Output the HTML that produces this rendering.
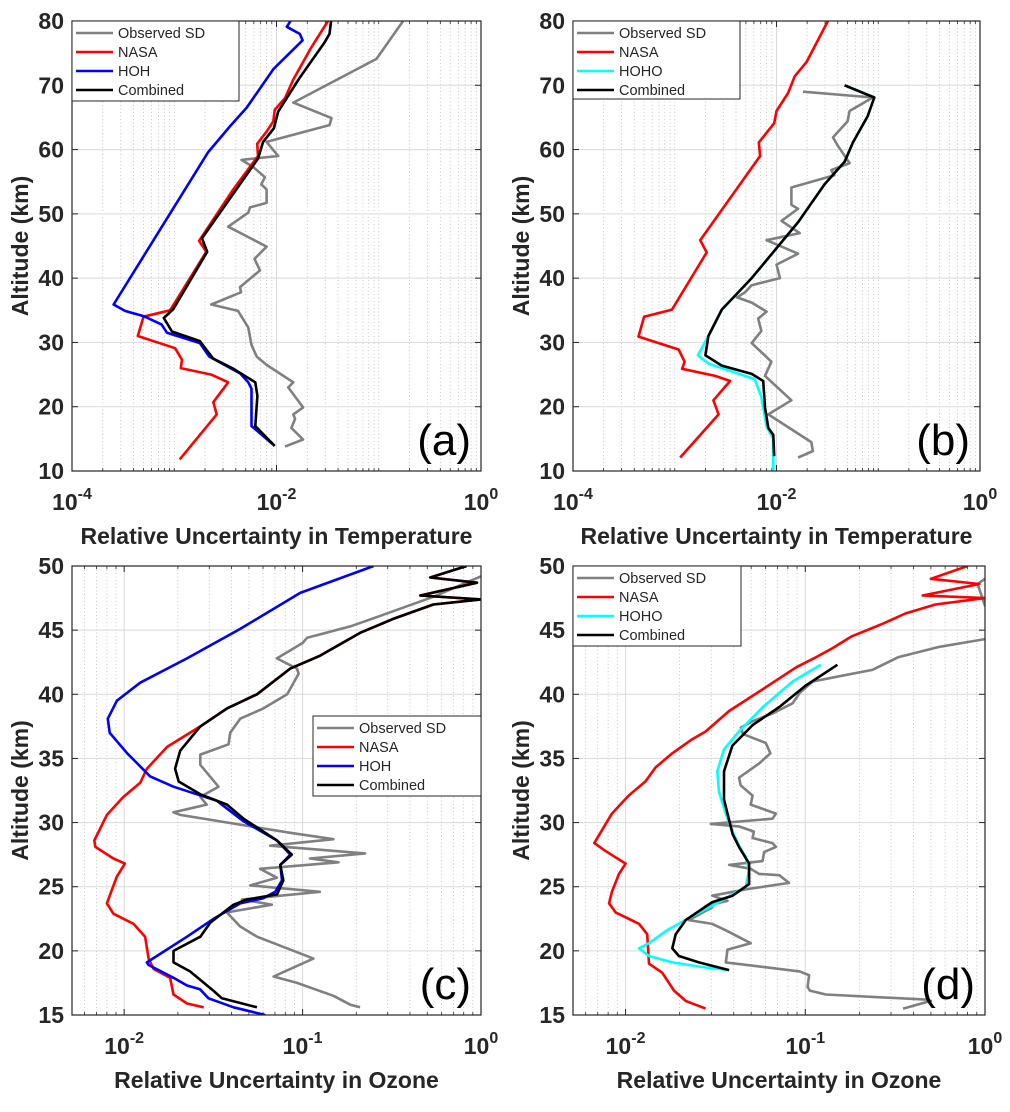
<!DOCTYPE html>
<html><head><meta charset="utf-8">
<style>
html,body{margin:0;padding:0;background:#fff;}
svg{display:block;font-family:"Liberation Sans",Arial,sans-serif;}
</style></head>
<body>
<svg id="fig" width="1010" height="1112" viewBox="0 0 1010 1112" xmlns="http://www.w3.org/2000/svg"></svg>
<script>
// ---------- Panel (a) temperature, HOH ----------
const aObsAlt = [80,74.1,67.3,64.9,63.8,61.2,59.0,58.4,57.3,55.7,54.6,53.8,51.7,51,50.2,48,44.9,43,41.2,38.6,37.8,35.9,34.9,32.3,29.6,27.8,26.5,23.8,23.0,19.9,18.8,18.1,16.7,14.9,13.8];
const aObsVal = [0.173,0.095,0.0146,0.0345,0.033,0.008,0.0104,0.00455,0.0059,0.0077,0.0071,0.008,0.008,0.0055,0.0053,0.00337,0.008,0.0061,0.0069,0.0044,0.0045,0.0023,0.0042,0.0053,0.0057,0.0064,0.008,0.0146,0.013,0.0182,0.0146,0.0152,0.014,0.0182,0.0121];
const aNasaAlt = [80,75.9,70.9,68,66.2,64.4,62.8,60.9,59,53.8,45.8,44.1,35,34,31,29.1,27.3,26,25,23.8,20.7,18.8,11.8];
const aNasaVal = [0.0319,0.0219,0.0146,0.0121,0.00963,0.0093,0.008,0.00647,0.0066,0.00378,0.00175,0.00206,0.00091,0.0005,0.00044,0.00102,0.00119,0.00116,0.0023,0.00337,0.00241,0.0026,0.00113];
const aHohAlt = [80,79.1,78,77,72.5,66.5,63.6,59.6,35.9,34.9,34.1,32.8,31.5,29.9,27.8,25.2,23.8,22.8,17,13.9];
const aHohVal = [0.0137,0.0126,0.0169,0.018,0.0093,0.0051,0.0035,0.00215,0.000255,0.00033,0.0005,0.00075,0.00085,0.00178,0.0022,0.0044,0.0053,0.0057,0.0057,0.0096];
const aCombAlt = [80,78,76.7,71.2,65.9,63.3,61.2,58.6,46.2,44.1,35.2,33.8,31.7,30.2,27.5,25.9,23.8,21.7,17,13.9];
const aCombVal = [0.0342,0.033,0.0296,0.0169,0.0104,0.0094,0.0074,0.0066,0.00187,0.0021,0.00098,0.00079,0.00095,0.00178,0.0024,0.0038,0.0062,0.0065,0.0062,0.0096];
// ---------- Panel (b) temperature, HOHO ----------
const bObsAlt = [69,68.1,66,64.4,61.9,60.6,57.9,56.8,56,54.1,51.4,50.8,48.9,47,45.9,43.8,42.1,40,38.9,37.8,37,36.2,34.8,33.7,31.8,29.9,27,24.8,21,18.8,14.5,13.1,12.1];
const bObsVal = [0.0182,0.0883,0.0523,0.05,0.0359,0.04,0.0523,0.0345,0.037,0.014,0.014,0.0163,0.0112,0.0169,0.008,0.0163,0.01,0.0108,0.0057,0.0049,0.0041,0.0057,0.008,0.0066,0.0071,0.0057,0.0089,0.0077,0.014,0.0083,0.022,0.0228,0.0163];
const bNasaAlt = [80,73.6,71.4,68.8,66,64.1,61.1,59,45.9,44,35.1,34,30.9,28.9,27,25.9,24.8,24,21,18.8,12.1];
const bNasaVal = [0.032,0.0197,0.0151,0.013,0.01,0.0095,0.0067,0.0069,0.00178,0.00206,0.00094,0.0005,0.00044,0.00109,0.00125,0.00118,0.0025,0.0035,0.0024,0.0027,0.00113];
const bHohoAlt = [70,68.1,65.2,61.1,58.1,54.6,48.7,40,35.1,31,28,26.7,24.3,21.5,16.9,15,10];
const bHohoVal = [0.0467,0.0915,0.0787,0.0563,0.0467,0.0297,0.0163,0.0057,0.0029,0.00214,0.00169,0.00215,0.0061,0.0071,0.008,0.0093,0.0093];
const bCombAlt = [70,68.1,65.2,61.1,58.1,54.6,48.7,40,35.1,31,28,26.4,25.1,24,19.9,16.7,15.6,12.3];
const bCombVal = [0.0467,0.0915,0.0787,0.0563,0.0467,0.0297,0.0163,0.0057,0.0029,0.00214,0.002,0.0029,0.0057,0.0074,0.0077,0.0083,0.0093,0.0095];
// ---------- Panel (c) ozone, HOH ----------
const cObsAlt = [49.2,47.6,46.2,45.3,44.4,44,42.8,42,41.6,40,38.9,38.1,37,36.1,35.3,34.5,32.8,32,31.4,30.8,30.6,29.2,28.7,28.2,27.6,27.2,26.9,26.4,25.7,25.1,24.6,24,23.6,23,21.9,21.1,19.4,18,17.5,16.5,15.8,15.6];
const cObsVal = [1.0,0.54,0.284,0.186,0.106,0.1,0.0718,0.093,0.095,0.082,0.0603,0.0447,0.0393,0.0385,0.0267,0.0267,0.0338,0.0267,0.029,0.0189,0.0206,0.0852,0.149,0.0658,0.224,0.11,0.159,0.0578,0.0718,0.0509,0.125,0.0457,0.0673,0.0376,0.0447,0.0555,0.115,0.0688,0.093,0.149,0.185,0.21];
const cNasaAlt = [50,49.1,48.7,47.7,47.4,47,45.9,44.8,43,42,40,38.9,37.5,35.9,34.2,33.1,32,30.6,28.6,28.1,27.2,26.8,25.8,24.7,23.7,22.9,22.1,21.1,19.4,18.6,17.9,16.6,15.9,15.6];
const cNasaVal = [0.83,0.52,0.95,0.457,1.0,0.54,0.325,0.211,0.125,0.0852,0.0555,0.0377,0.0267,0.0174,0.0134,0.0123,0.0099,0.008,0.0068,0.0069,0.0087,0.0101,0.0091,0.0085,0.008,0.0087,0.0113,0.0131,0.0137,0.0146,0.0181,0.0189,0.0225,0.0279];
const cHohAlt = [50,47.9,45.1,42.8,40.9,39.5,38.1,37,35.4,33.6,32.8,31.7,30.1,28.6,27.5,26.7,25.5,24.6,24.1,23.7,22.5,21.1,19.1,18.9,17.9,17.3,17,16.3,15.6,15];
const cHohVal = [0.25,0.097,0.0447,0.0225,0.0123,0.0091,0.0081,0.0083,0.0104,0.014,0.0189,0.0331,0.0467,0.0719,0.0853,0.075,0.0767,0.0703,0.06,0.0447,0.0317,0.0225,0.0134,0.0137,0.0189,0.0225,0.0266,0.0297,0.041,0.0617];
const cCombAlt = [50,49.1,48.7,47.7,47.4,47,45.9,44.8,43,42,40,38.9,37.5,35.6,34.2,33.2,32.2,31.4,30.3,28.6,27.5,26.7,25.5,24.4,24,23.6,22.2,21.1,20,19.1,18.4,16.9,16.3,15.6];
const cCombVal = [0.83,0.52,0.95,0.457,1.0,0.54,0.325,0.211,0.125,0.0852,0.0555,0.0377,0.0267,0.0206,0.0193,0.0202,0.0267,0.0377,0.0467,0.0719,0.087,0.075,0.078,0.072,0.0488,0.041,0.0304,0.0267,0.0189,0.0189,0.0234,0.0316,0.0353,0.0555];
// ---------- Panel (d) ozone, HOHO ----------
const dObsAlt = [49,48.6,46.9,45.6,44.3,43.7,42.9,41.9,41.4,41,40.1,39.3,38.5,37.9,37.4,36.9,36.2,35.4,34.6,33.5,32.9,32.1,31.4,30.7,30.3,29.9,29.7,29.3,28.8,28.4,28.1,27.7,27,26.7,26.4,26,25.9,25.3,24.8,24.3,23.9,23.5,23.4,22.4,22.1,21.6,20.6,20.1,19.1,18.4,18.1,17.2,16.9,16.6,16.2,16.1,15.5];
const dObsVal = [1.0,0.91,1.0,1.4,1.0,0.56,0.33,0.236,0.154,0.11,0.093,0.085,0.0657,0.0509,0.0438,0.045,0.0603,0.064,0.0553,0.0428,0.0437,0.0509,0.0497,0.0686,0.0657,0.0298,0.0428,0.0518,0.0509,0.0657,0.0686,0.059,0.0578,0.0377,0.0497,0.0553,0.0717,0.0812,0.0467,0.0304,0.0369,0.0279,0.0304,0.0225,0.0304,0.0361,0.0497,0.0369,0.0361,0.093,0.105,0.103,0.106,0.13,0.47,0.5,0.35];
const dNasaAlt = [50,49,48.6,47.7,47.5,47,46.3,45.5,44.5,43.6,42.9,42.1,40.4,38.7,37.1,36.5,35.4,34.3,33.2,32.1,30.7,28.4,27.8,26.8,26,24.6,23.7,23,22.1,21.3,19,18.3,16.9,16.1,15.5];
const dNasaVal = [0.8,0.5,0.93,0.45,1.0,0.53,0.36,0.27,0.18,0.142,0.115,0.089,0.058,0.0377,0.0279,0.0235,0.0182,0.0147,0.0129,0.0104,0.0084,0.0067,0.0077,0.01,0.0092,0.0084,0.0081,0.0088,0.0119,0.0132,0.0135,0.016,0.0186,0.0216,0.0279];
const dHohoAlt = [42.3,41,39,37.1,35.7,34,32.4,30.7,29.3,28.2,27.3,26.3,25,23.8,22.7,21.6,20.6,20.2,19.6,19.1,18.7,18.5];
const dHohoVal = [0.122,0.085,0.058,0.0428,0.0353,0.0324,0.0331,0.0361,0.0394,0.0428,0.0467,0.0487,0.0467,0.0331,0.0235,0.017,0.0135,0.0119,0.0135,0.0182,0.0279,0.0377];
const dCombAlt = [42.3,40.7,39,37.6,36,34,31.8,30.2,29.1,28.1,26.8,25.2,24.3,23.8,22.4,21.3,20.2,19.6,19.1,18.5];
const dCombVal = [0.151,0.101,0.0716,0.0509,0.0393,0.0353,0.0353,0.0377,0.0394,0.0428,0.0487,0.0487,0.0394,0.0304,0.0216,0.019,0.0182,0.0198,0.0256,0.0377];

// tick labels (decade exponents)
const tempXTickExp = [-4,-2,0];
const ozoneXTickExp = [-2,-1,0];
const tempYTicks = [10,20,30,40,50,60,70,80];
const ozoneYTicks = [15,20,25,30,35,40,45,50];
const legendA = ["Observed SD","NASA","HOH","Combined"];
const legendB = ["Observed SD","NASA","HOHO","Combined"];
const legendC = ["Observed  SD","NASA","HOH","Combined"];

const NS = "http://www.w3.org/2000/svg";
const svg = document.getElementById("fig");
function mk(tag, attrs, parent){ const e=document.createElementNS(NS,tag); for(const k in attrs) e.setAttribute(k,attrs[k]); (parent||svg).appendChild(e); return e; }

function panel(cfg){
  const g = mk("g",{});
  
  
  const L=cfg.x0,R=cfg.x1,T=cfg.y0,B=cfg.y1;
  const lmin=Math.log10(cfg.xmin), lmax=Math.log10(cfg.xmax);
  const X=v=>L+(Math.log10(v)-lmin)/(lmax-lmin)*(R-L);
  const Y=a=>B-(a-cfg.ymin)/(cfg.ymax-cfg.ymin)*(B-T);
  const cid="clip"+cfg.id;
  const cp=mk("clipPath",{id:cid},g); mk("rect",{x:L,y:T,width:R-L,height:B-T},cp);
  // minor grid (includes unlabeled decades)
  for(let d=Math.floor(lmin); d<lmax; d++){
    for(let m=1;m<=9;m++){ if(m===1 && cfg.xexp.indexOf(d)>=0) continue;
      const v=m*Math.pow(10,d); if(v<=cfg.xmin*1.001||v>=cfg.xmax*0.999) continue;
      const x=X(v); const ln=mk("line",{x1:x,x2:x,y1:T,y2:B,stroke:"#bdbdbd","stroke-width":0.8,"stroke-dasharray":"1,2.5"},g);
       
      mk("line",{x1:x,x2:x,y1:B,y2:B-3,stroke:"#262626","stroke-width":0.8},g);
      mk("line",{x1:x,x2:x,y1:T,y2:T+3,stroke:"#262626","stroke-width":0.8},g);
    }
  }
  // major grid + labels
  cfg.xexp.forEach(d=>{ const x=X(Math.pow(10,d));
    if(x>L+1&&x<R-1){ const ln=mk("line",{x1:x,x2:x,y1:T,y2:B,stroke:"#d9d9d9","stroke-width":1},g);
       
      mk("line",{x1:x,x2:x,y1:B,y2:B-6,stroke:"#262626","stroke-width":1},g);
      mk("line",{x1:x,x2:x,y1:T,y2:T+6,stroke:"#262626","stroke-width":1},g);}
    const t=mk("text",{x:x,y:B+39,"text-anchor":"middle","font-size":23,"font-weight":"bold",fill:"#262626"},g);
     
    t.textContent="10";
    const sp=mk("tspan",{dy:-11,"font-size":16},t); sp.textContent=String(d);
  });
  cfg.yticks.forEach(a=>{ const y=Y(a);
    if(y>T+1&&y<B-1){ const ln=mk("line",{x1:L,x2:R,y1:y,y2:y,stroke:"#d9d9d9","stroke-width":1},g);
       }
    mk("line",{x1:L,x2:L+6,y1:y,y2:y,stroke:"#262626","stroke-width":1},g);
    mk("line",{x1:R,x2:R-6,y1:y,y2:y,stroke:"#262626","stroke-width":1},g);
    const t=mk("text",{x:L-8,y:y+8,"text-anchor":"end","font-size":23,"font-weight":"bold",fill:"#262626"},g);
     
    t.textContent=a;
  });
  // series
  const sg=mk("g",{"clip-path":"url(#"+cid+")"},g);
  cfg.series.forEach(s=>{
    const pts=s.alt.map((a,i)=>X(s.val[i]).toFixed(1)+","+Y(a).toFixed(1)).join(" ");
    const p=mk("polyline",{points:pts,fill:"none",stroke:s.color,"stroke-width":2.6,"stroke-linejoin":"round"},sg);
    
    
  });
  // box
  const bx=mk("rect",{x:L,y:T,width:R-L,height:B-T,fill:"none",stroke:"#262626","stroke-width":1.2},g);
   
  // panel label
  const pl=mk("text",{x:R-10,y:B-16,"text-anchor":"end","font-size":44,fill:"#000"},g);
   
  pl.textContent="("+cfg.id+")";
  // titles
  const xt=mk("text",{x:(L+R)/2,y:B+73,"text-anchor":"middle","font-size":23,"font-weight":"bold",fill:"#262626"},g);
   
  xt.textContent=cfg.xtitle;
  const cy=(T+B)/2, cx=L-44;
  const yt=mk("text",{x:cx,y:cy,"text-anchor":"middle","font-size":23,"font-weight":"bold",fill:"#262626",transform:"rotate(-90 "+cx+" "+cy+")"},g);
   
  yt.textContent="Altitude (km)";
  // legend
  const lg=mk("g",{},g);
   
  const lx=cfg.leg.x, ly=cfg.leg.y;
  mk("rect",{x:lx,y:ly,width:cfg.leg.w,height:cfg.leg.h,fill:"#fff",stroke:"#262626","stroke-width":1},lg);
  cfg.leg.labels.forEach((lab,i)=>{ const yy=ly+12+i*19;
    const e=mk("g",{},lg);
     
    mk("line",{x1:lx+4,x2:lx+41,y1:yy,y2:yy,stroke:cfg.series[i].color,"stroke-width":2.6},e);
    const t=mk("text",{x:lx+46,y:yy+5,"font-size":14.5,fill:"#262626"},e); t.textContent=lab;
  });
}
const GRAY="#808080",RED="#ff0000",BLUE="#0000ff",CYAN="#00ffff",BLK="#000000";
panel({id:"a",x0:72,x1:481,y0:21,y1:471,xmin:1e-4,xmax:1,ymin:10,ymax:80,xexp:tempXTickExp,yticks:tempYTicks,
  xtitle:"Relative Uncertainty in Temperature",
  series:[{name:"observed-sd",color:GRAY,alt:aObsAlt,val:aObsVal},{name:"nasa",color:RED,alt:aNasaAlt,val:aNasaVal},{name:"hoh",color:BLUE,alt:aHohAlt,val:aHohVal},{name:"combined",color:BLK,alt:aCombAlt,val:aCombVal}],
  leg:{x:72,y:21,w:167,h:80,labels:legendA}});
panel({id:"b",x0:573,x1:980,y0:21,y1:471,xmin:1e-4,xmax:1,ymin:10,ymax:80,xexp:tempXTickExp,yticks:tempYTicks,
  xtitle:"Relative Uncertainty in Temperature",
  series:[{name:"observed-sd",color:GRAY,alt:bObsAlt,val:bObsVal},{name:"nasa",color:RED,alt:bNasaAlt,val:bNasaVal},{name:"hoho",color:CYAN,alt:bHohoAlt,val:bHohoVal},{name:"combined",color:BLK,alt:bCombAlt,val:bCombVal}],
  leg:{x:573,y:21,w:167,h:78,labels:legendB}});
panel({id:"c",x0:72,x1:481,y0:566,y1:1015,xmin:0.0051,xmax:1,ymin:15,ymax:50,xexp:ozoneXTickExp,yticks:ozoneYTicks,
  xtitle:"Relative Uncertainty in Ozone",
  series:[{name:"observed-sd",color:GRAY,alt:cObsAlt,val:cObsVal},{name:"nasa",color:RED,alt:cNasaAlt,val:cNasaVal},{name:"hoh",color:BLUE,alt:cHohAlt,val:cHohVal},{name:"combined",color:BLK,alt:cCombAlt,val:cCombVal}],
  leg:{x:313,y:716,w:168,h:80,labels:legendC}});
panel({id:"d",x0:573,x1:985,y0:566,y1:1015,xmin:0.0051,xmax:1,ymin:15,ymax:50,xexp:ozoneXTickExp,yticks:ozoneYTicks,
  xtitle:"Relative Uncertainty in Ozone",
  series:[{name:"observed-sd",color:GRAY,alt:dObsAlt,val:dObsVal},{name:"nasa",color:RED,alt:dNasaAlt,val:dNasaVal},{name:"hoho",color:CYAN,alt:dHohoAlt,val:dHohoVal},{name:"combined",color:BLK,alt:dCombAlt,val:dCombVal}],
  leg:{x:573,y:566,w:168,h:80,labels:legendB}});
</script>
</body></html>
